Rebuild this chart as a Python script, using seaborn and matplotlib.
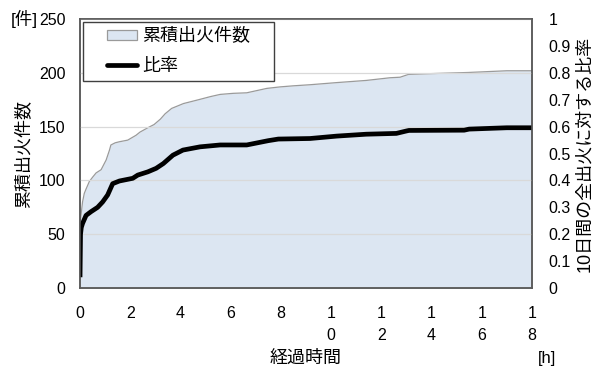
import numpy as np
import pandas as pd
import matplotlib
matplotlib.use("Agg")
import matplotlib.pyplot as plt
import seaborn as sns
from matplotlib.legend_handler import HandlerLine2D, HandlerPatch
from matplotlib.patches import Patch
from matplotlib.lines import Line2D

# Cumulative number of fires vs. elapsed time [h]
cum_hours = [0, 0.01, 0.05, 0.1, 0.17, 0.24, 0.37, 0.5, 0.64, 0.84, 1.04, 1.17,
             1.23, 1.4, 1.57, 1.9, 2.23, 2.39, 2.7, 2.95, 3.2, 3.39, 3.65, 4.12,
             4.71, 5.2, 5.58, 6.1, 6.64, 7.44, 7.97, 8.5, 9.16, 10.23, 11.4,
             12.35, 12.75, 13.08, 14.2, 15.47, 17.0, 18.0]
cum_counts = [12, 62, 70, 80, 88, 92, 99, 103, 107, 110, 119, 128,
              133, 135, 136, 137.5, 142, 145, 149, 152, 157, 162, 167, 171.5,
              175, 178, 180, 181, 181.5, 185.6, 187, 188, 189, 191, 193,
              195.5, 196, 198.6, 199.5, 200.4, 202, 202]

# Share of all fires within 10 days
ratio_hours = [0, 0.02, 0.05, 0.1, 0.24, 0.44, 0.7, 0.9, 1.1, 1.3, 1.57, 2.1,
               2.3, 2.7, 3.03, 3.32, 3.7, 4.1, 4.78, 5.58, 6.64, 7.5, 7.9,
               9.16, 10.23, 11.4, 12.6, 13.0, 13.1, 15.3, 15.5, 17.0, 18.0]
ratio_values = [0.04, 0.20, 0.225, 0.24, 0.27, 0.284, 0.30, 0.32, 0.346,
                0.388, 0.398, 0.408, 0.42, 0.432, 0.445, 0.463, 0.494, 0.513,
                0.525, 0.532, 0.532, 0.548, 0.554, 0.556, 0.565, 0.572, 0.575,
                0.584, 0.586, 0.587, 0.591, 0.596, 0.596]

x_ticks = [0, 2, 4, 6, 8, 10, 12, 14, 16, 18]
x_tick_labels = ["0", "2", "4", "6", "8", "1\n0", "1\n2", "1\n4", "1\n6", "1\n8"]
left_ticks = [0, 50, 100, 150, 200, 250]
right_ticks = [0, 0.1, 0.2, 0.3, 0.4, 0.5, 0.6, 0.7, 0.8, 0.9, 1.0]
right_tick_labels = ["0", "0.1", "0.2", "0.3", "0.4", "0.5", "0.6", "0.7",
                     "0.8", "0.9", "1"]

series_cum = "累積出火件数"
series_ratio = "比率"

FILL = "#DCE6F2"
EDGE = "#9a9a9a"
SPINE = "#5a5a5a"

sns.set_theme(style="white")
plt.rcParams["font.family"] = ["Liberation Sans", "Noto Sans CJK JP"]
plt.rcParams["text.color"] = "black"
plt.rcParams["axes.labelcolor"] = "black"


class ShiftedPatchHandler(HandlerPatch):
    """Patch handle drawn only on the right part of the handle box."""
    def __init__(self, shift, shrink=0.0, **kw):
        super().__init__(**kw)
        self.shift = shift
        self.shrink = shrink

    def create_artists(self, legend, orig_handle, xdescent, ydescent, width,
                       height, fontsize, trans):
        return super().create_artists(legend, orig_handle,
                                      xdescent - self.shift,
                                      ydescent - self.shrink,
                                      width - self.shift,
                                      height - 2 * self.shrink,
                                      fontsize, trans)


class ShiftedLineHandler(HandlerLine2D):
    """Line handle drawn only on the right part of the handle box."""
    def __init__(self, shift, **kw):
        super().__init__(**kw)
        self.shift = shift

    def create_artists(self, legend, orig_handle, xdescent, ydescent, width,
                       height, fontsize, trans):
        return super().create_artists(legend, orig_handle,
                                      xdescent - self.shift, ydescent,
                                      width - self.shift, height,
                                      fontsize, trans)


fig, ax = plt.subplots(figsize=(5.95, 3.68), dpi=100)
fig.subplots_adjust(left=0.1345, right=0.894, top=0.948, bottom=0.2174)

cum_df = pd.DataFrame({"hours": cum_hours, "count": cum_counts})
ratio_df = pd.DataFrame({"hours": ratio_hours, "ratio": ratio_values})

# Area: cumulative fires
ax.fill_between(cum_df["hours"], cum_df["count"], color=FILL, lw=0, zorder=1)
sns.lineplot(data=cum_df, x="hours", y="count", ax=ax, color=EDGE, lw=0.9,
             estimator=None, sort=False, zorder=2)

ax.set_xlim(0, 18)
ax.set_ylim(0, 250)
ax.set_xticks(x_ticks)
ax.set_xticklabels(x_tick_labels, linespacing=1.6)
ax.set_yticks(left_ticks)
ax.grid(False)
ax.yaxis.grid(True, color="#d9d9d9", lw=0.9)
ax.set_axisbelow(False)
ax.tick_params(axis="x", length=0, pad=13, labelsize=11.5, colors="black")
ax.tick_params(axis="y", length=0, pad=10.5, labelsize=11.5, colors="black")
ax.set_xlabel("経過時間", fontsize=13, labelpad=5)
ax.set_ylabel(series_cum, fontsize=13, labelpad=4)

# Line: ratio on the secondary axis
ax2 = ax.twinx()
sns.lineplot(data=ratio_df, x="hours", y="ratio", ax=ax2, color="black",
             lw=3.4, estimator=None, sort=False, solid_capstyle="butt",
             solid_joinstyle="round")
ax2.set_ylim(0, 1)
ax2.set_yticks(right_ticks)
ax2.set_yticklabels(right_tick_labels)
ax2.grid(False)
ax2.tick_params(axis="y", length=0, pad=12, labelsize=11.5, colors="black")
ax2.set_ylabel("10日間の全出火に対する比率", fontsize=13, labelpad=3.5)

for a in (ax, ax2):
    for s in a.spines.values():
        s.set_visible(True)
        s.set_color(SPINE)
        s.set_linewidth(1.1)

# Unit labels
ax.annotate("[件]", xy=(0, 1), xycoords="axes fraction", xytext=(-30, 0),
            textcoords="offset points", ha="right", va="center", fontsize=12.5)
ax.annotate("[h]", xy=(1, 0), xycoords="axes fraction", xytext=(4, -51),
            textcoords="offset points", ha="left", va="center", fontsize=12)

# Legend
h_patch = Patch(facecolor=FILL, edgecolor=EDGE, lw=0.9)
h_line = Line2D([], [], color="black", lw=3.4)
leg = ax2.legend([h_patch, h_line], [series_cum, series_ratio],
                 loc="upper left", bbox_to_anchor=(0.0066, 0.989 - 0.3, 0.4226, 0.3),
                 mode="expand", borderaxespad=0, frameon=True, fancybox=False,
                 framealpha=1, edgecolor="#404040", fontsize=13,
                 handlelength=2.63, handletextpad=0.3, labelspacing=0.7,
                 borderpad=0.35,
                 handler_map={Patch: ShiftedPatchHandler(12.5, shrink=0.9),
                              Line2D: ShiftedLineHandler(12.5)})
leg.get_frame().set_linewidth(1.0)

fig.savefig("out.png", dpi=100)
